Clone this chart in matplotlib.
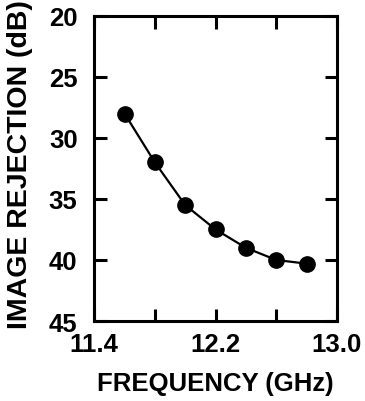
import matplotlib
matplotlib.use("Agg")
import matplotlib.pyplot as plt

# image rejection vs frequency
freq_ghz = [11.6, 11.8, 12.0, 12.2, 12.4, 12.6, 12.8]
rejection_db = [28.0, 32.0, 35.5, 37.5, 39.0, 40.0, 40.3]

x_ticks = [11.4, 11.8, 12.2, 12.6, 13.0]
x_labels = ["11.4", "", "12.2", "", "13.0"]
y_ticks = [20, 25, 30, 35, 40, 45]

plt.rcParams['font.family'] = ['Liberation Sans', 'DejaVu Sans']
plt.rcParams['font.weight'] = 'bold'

fig = plt.figure(figsize=(3.65, 4.02), dpi=100)
ax = fig.add_axes([0.258, 0.199, 0.665, 0.759])

ax.plot(freq_ghz, rejection_db, color='black', linewidth=1.6,
        marker='o', markersize=11)

ax.set_xlim(11.4, 13.0)
ax.set_ylim(45, 20)
ax.set_xticks(x_ticks)
ax.set_xticklabels(x_labels)
ax.set_yticks(y_ticks)

for s in ax.spines.values():
    s.set_linewidth(2.2)
ax.tick_params(direction='in', length=9, width=2.2, top=True, right=True,
               labelsize=18.5)
ax.tick_params(axis='x', pad=8)
ax.tick_params(axis='y', pad=12)

ax.set_xlabel("FREQUENCY (GHz)", fontsize=18.5, fontweight='bold', va='center')
ax.set_ylabel("IMAGE REJECTION (dB)", fontsize=20.5, fontweight='bold', va='center')
ax.xaxis.set_label_coords(0.5, -0.202)
ax.yaxis.set_label_coords(-0.304, 0.515)

fig.savefig("out.png", dpi=100)
